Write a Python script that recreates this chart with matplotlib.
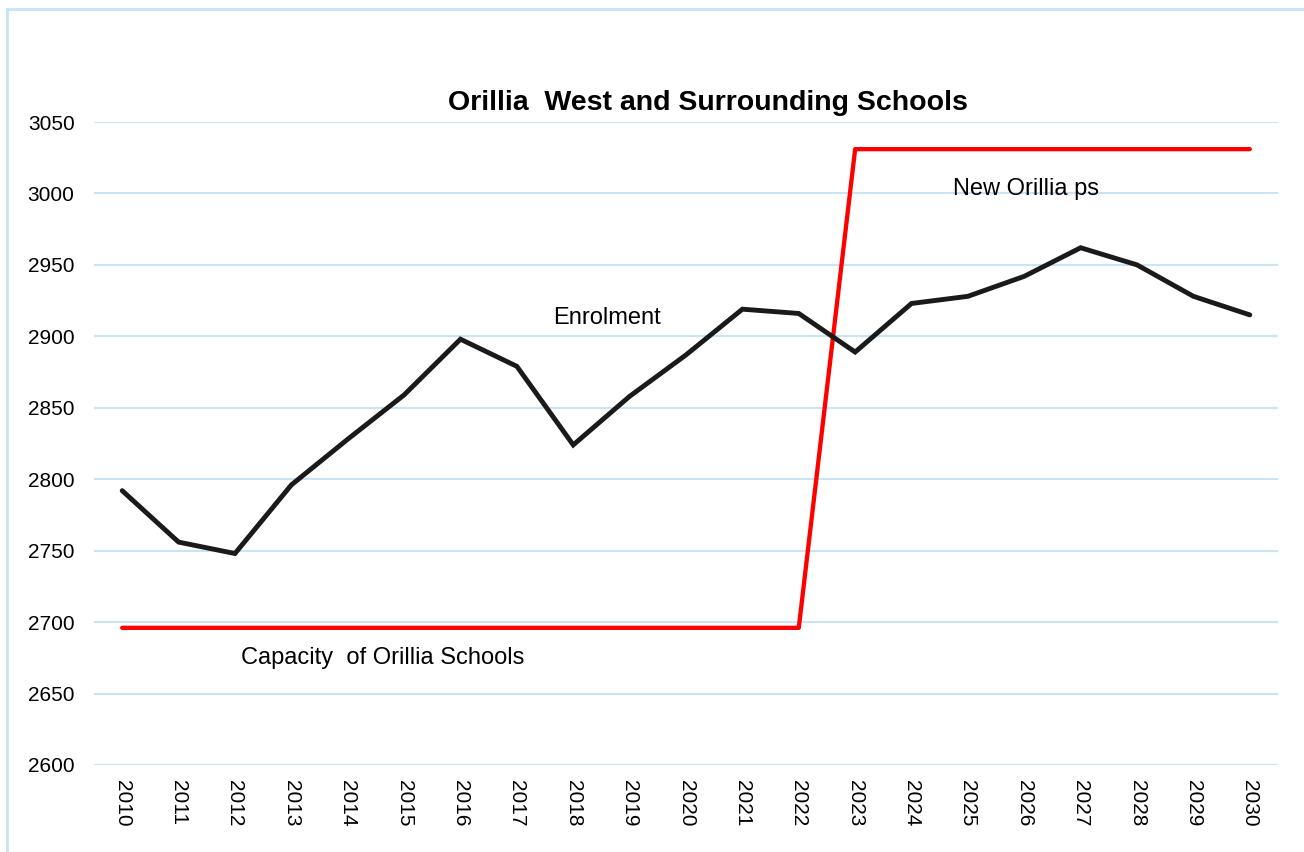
import matplotlib
matplotlib.use("Agg")
import matplotlib.pyplot as plt
from matplotlib.lines import Line2D

years = [str(y) for y in range(2010, 2031)]
enrolment = [2792, 2756, 2748, 2796, 2828, 2859, 2898, 2879, 2824, 2858, 2887,
             2919, 2916, 2889, 2923, 2928, 2942, 2962, 2950, 2928, 2915]
capacity = [2696] * 13 + [3031] * 8
yticks = list(range(2600, 3051, 50))

plt.rcParams['font.family'] = ['Liberation Sans', 'DejaVu Sans']

fig = plt.figure(figsize=(13.04, 8.52), dpi=100)
ax = fig.add_axes([94 / 1304, 1 - 765 / 852, (1278 - 94) / 1304, (765 - 122) / 852])

# frame around the chart area (light blue)
frame_c = "#c8e4f6"
fig.add_artist(Line2D([7 / 1304, 1.0], [1 - 9 / 852] * 2, color=frame_c, lw=2,
                      transform=fig.transFigure))
fig.add_artist(Line2D([7 / 1304] * 2, [0, 1 - 9 / 852], color=frame_c, lw=2,
                      transform=fig.transFigure))

x = range(len(years))
ax.plot(x, capacity, color="#ff0000", lw=3.1, solid_capstyle="round", zorder=3)
ax.plot(x, enrolment, color="#1a1a1a", lw=3.5, solid_capstyle="round",
        solid_joinstyle="miter", zorder=4)

ax.set_xlim(-0.5, len(years) - 0.5)
ax.set_ylim(2600, 3050)
ax.set_yticks(yticks)
ax.set_xticks(list(x))
ax.set_xticklabels(years, rotation=-90, fontsize=15)
ax.tick_params(axis="y", labelsize=15, length=0, pad=14)
ax.tick_params(axis="x", length=0, pad=11)
ax.grid(axis="y", color="#c8e4f6", lw=1.5)
ax.set_axisbelow(True)
for s in ax.spines.values():
    s.set_visible(False)

fig.text(708 / 1304, 1 - 103 / 852, "Orillia  West and Surrounding Schools",
         ha="center", va="center", fontsize=20.5, fontweight="bold")
ax.text(8.6, 2913, "Enrolment", ha="center", va="center", fontsize=17)
ax.text(2.1, 2675, "Capacity  of Orillia Schools", ha="left", va="center", fontsize=17)
ax.text(16.03, 3003, "New Orillia ps", ha="center", va="center", fontsize=17)

fig.savefig("out.png", dpi=100)
